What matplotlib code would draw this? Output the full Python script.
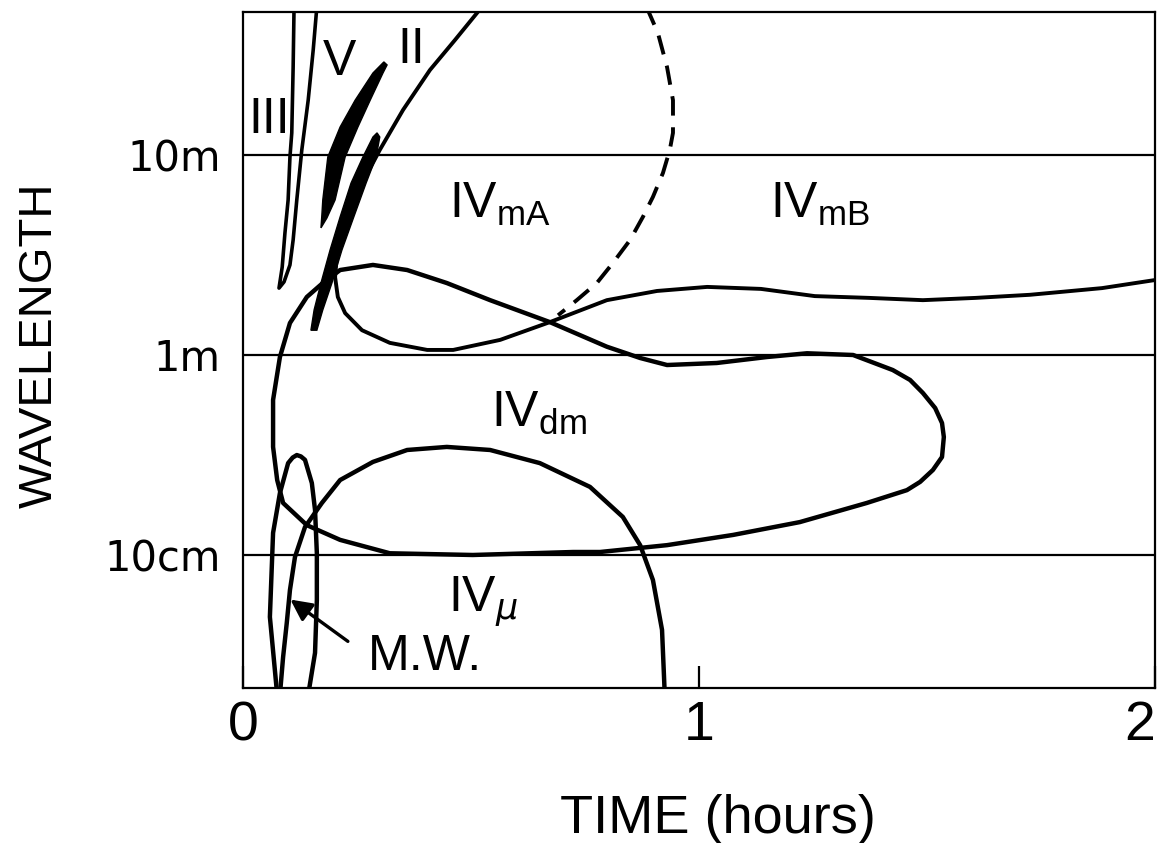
import numpy as np
import matplotlib.pyplot as plt
from matplotlib.ticker import NullLocator

plt.rcParams['font.family'] = ['Liberation Sans', 'DejaVu Sans']

#======== values: time in hours, wavelength in metres ========

# type III (narrow loop at the start)
iii_t  = [0.112, 0.110, 0.107, 0.103, 0.099, 0.092, 0.086, 0.079, 0.090, 0.103, 0.110, 0.118, 0.129, 0.143, 0.154, 0.162]
iii_wl = [55, 27.5, 12.9, 9.77, 5.96, 4.07, 2.75, 2.16, 2.32, 2.82, 3.76, 5.96, 10.6, 18.8, 33.5, 55]

# type II, the two black streaks (outline of each)
ii_a_t  = [0.171, 0.173, 0.175, 0.186, 0.213, 0.246, 0.285, 0.309, 0.316, 0.307, 0.279, 0.252, 0.224, 0.202, 0.184, 0.171]
ii_a_wl = [4.32, 5.01, 5.96, 9.77, 13.8, 18.8, 25.7, 29.2, 28.2, 25.7, 18.8, 13.8, 9.77, 5.96, 4.84, 4.32]
ii_b_t  = [0.149, 0.156, 0.171, 0.191, 0.213, 0.237, 0.263, 0.285, 0.294, 0.300, 0.292, 0.270, 0.243, 0.217, 0.195, 0.175, 0.162]
ii_b_wl = [1.33, 1.68, 2.29, 3.35, 4.90, 7.24, 9.77, 12.3, 12.9, 12.3, 9.77, 7.24, 4.90, 3.35, 2.29, 1.68, 1.33]

# IVmA / IVmB boundary
ma_t  = [0.524, 0.465, 0.410, 0.351, 0.300, 0.257, 0.224, 0.206, 0.202, 0.208, 0.224, 0.261, 0.322, 0.404,
         0.461, 0.564, 0.673, 0.798, 0.908, 1.018, 1.136, 1.254, 1.373, 1.491, 1.607, 1.726, 1.884, 2.0]
ma_wl = [55, 37.6, 26.6, 16.8, 10.6, 6.92, 4.37, 3.16, 2.45, 1.95, 1.62, 1.33, 1.15, 1.06,
         1.06, 1.19, 1.46, 1.88, 2.09, 2.19, 2.14, 1.97, 1.93, 1.88, 1.93, 2.0, 2.16, 2.37]

# dashed end of IVmA
dash_t  = [0.885, 0.910, 0.930, 0.943, 0.943, 0.936, 0.921, 0.899, 0.877, 0.849, 0.811, 0.776, 0.732, 0.691]
dash_wl = [55, 40.7, 27.5, 18.8, 12.9, 10.6, 8.13, 6.17, 4.90, 3.76, 2.88, 2.29, 1.88, 1.58]

# IVdm (closed loop)
dm_t  = [0.175, 0.213, 0.285, 0.360, 0.447, 0.542, 0.673, 0.798, 0.871, 0.930, 1.039, 1.149, 1.237,
         1.338, 1.425, 1.463, 1.491, 1.518, 1.533, 1.537, 1.533, 1.513, 1.485, 1.456, 1.368, 1.221,
         1.075, 0.930, 0.783, 0.724, 0.504, 0.322, 0.213, 0.140, 0.088, 0.075, 0.066, 0.066, 0.081,
         0.103, 0.140, 0.175]
dm_wl = [2.29, 2.66, 2.82, 2.66, 2.29, 1.88, 1.46, 1.10, 0.966, 0.891, 0.912, 0.977, 1.02,
         1.0, 0.841, 0.750, 0.646, 0.543, 0.457, 0.389, 0.309, 0.266, 0.232, 0.211, 0.182, 0.146,
         0.126, 0.112, 0.1035, 0.1035, 0.100, 0.102, 0.119, 0.141, 0.182, 0.237, 0.347, 0.596, 0.977,
         1.445, 1.95, 2.29]

# IV micro
mu_t  = [0.925, 0.919, 0.899, 0.871, 0.833, 0.761, 0.651, 0.542, 0.447, 0.360, 0.285, 0.213, 0.173, 0.136, 0.114, 0.103, 0.096, 0.088, 0.081]
mu_wl = [0.02, 0.0422, 0.075, 0.112, 0.155, 0.219, 0.288, 0.335, 0.347, 0.335, 0.292, 0.237, 0.182, 0.138, 0.0977, 0.0668, 0.0457, 0.0309, 0.02]

# microwave (M.W.) burst
mw_t  = [0.075, 0.059, 0.066, 0.081, 0.099, 0.109, 0.118, 0.127, 0.136, 0.151, 0.158, 0.162, 0.162, 0.158, 0.143]
mw_wl = [0.02, 0.049, 0.129, 0.204, 0.288, 0.307, 0.316, 0.311, 0.299, 0.229, 0.168, 0.102, 0.0596, 0.0324, 0.02]

# axis ticks
x_ticks = [0, 1, 2]
x_labels = ['0', '1', '2']
y_ticks = [10, 1, 0.1]
y_labels = ['10m', '1m', '10cm']

#======== figure ========
fig = plt.figure(figsize=(11.71, 8.43), dpi=100)
ax = fig.add_axes([0.2075, 0.1839, 0.7788, 0.8019])
ax.set_yscale('log')
ax.set_xlim(0, 2)
ax.set_ylim(0.02163, 51.9)

kw = dict(color='black', lw=3.2, solid_joinstyle='round', solid_capstyle='round')
ax.plot(iii_t, iii_wl, **dict(kw, lw=2.6))
ax.plot(ma_t, ma_wl, **dict(kw, lw=2.8))
ax.plot(dash_t, dash_wl, color='black', lw=2.8, dashes=(5, 3))
ax.plot(dm_t, dm_wl, **kw)
ax.plot(mu_t, mu_wl, **kw)
ax.plot(mw_t, mw_wl, **kw)
ax.fill(ii_a_t, ii_a_wl, color='black', lw=1)
ax.fill(ii_b_t, ii_b_wl, color='black', lw=1)

# horizontal lines at the decades
for w in y_ticks:
    ax.axhline(w, color='black', lw=1.6)

#======== labels inside ========
fs = 36
ax.text(0.011, 12.9, 'III', fontsize=fs, ha='left', va='baseline')
ax.text(0.175, 25.1, 'V', fontsize=fs, ha='left', va='baseline')
ax.text(0.338, 28.8, 'II', fontsize=fs, ha='left', va='baseline')
ax.text(0.452, 4.84, r'IV$_{\mathregular{mA}}$', fontsize=fs, ha='left', va='baseline')
ax.text(1.156, 4.84, r'IV$_{\mathregular{mB}}$', fontsize=fs, ha='left', va='baseline')
ax.text(0.544, 0.437, r'IV$_{\mathregular{dm}}$', fontsize=fs, ha='left', va='baseline')
ax.text(0.450, 0.0519, r'IV$_{\mu}$', fontsize=fs, ha='left', va='baseline')
ax.text(0.274, 0.0266, 'M.W.', fontsize=fs, ha='left', va='baseline')
ax.annotate('', xy=(0.099, 0.061), xytext=(0.235, 0.0363),
            arrowprops=dict(arrowstyle='-|>', color='black', lw=2.4, mutation_scale=32))

#======== axes ========
ax.set_xticks(x_ticks)
ax.set_xticklabels(x_labels, fontsize=40)
ax.get_xticklabels()[-1].set_ha('right')
ax.tick_params(axis='x', direction='in', length=16, width=1.6, pad=9)
ax.set_yticks(y_ticks)
ax.set_yticklabels(y_labels, fontsize=30, family=['DejaVu Sans'])
ax.yaxis.set_minor_locator(NullLocator())
ax.tick_params(axis='y', length=0, pad=16)
for s in ax.spines.values():
    s.set_linewidth(1.6)

fig.text(718 / 1171, 10 / 843, 'TIME (hours)', fontsize=39, ha='center', va='baseline')
fig.text(0.034, 0.59, 'WAVELENGTH', fontsize=34, rotation=90, ha='center', va='center')

fig.savefig('out.png', dpi=100)
